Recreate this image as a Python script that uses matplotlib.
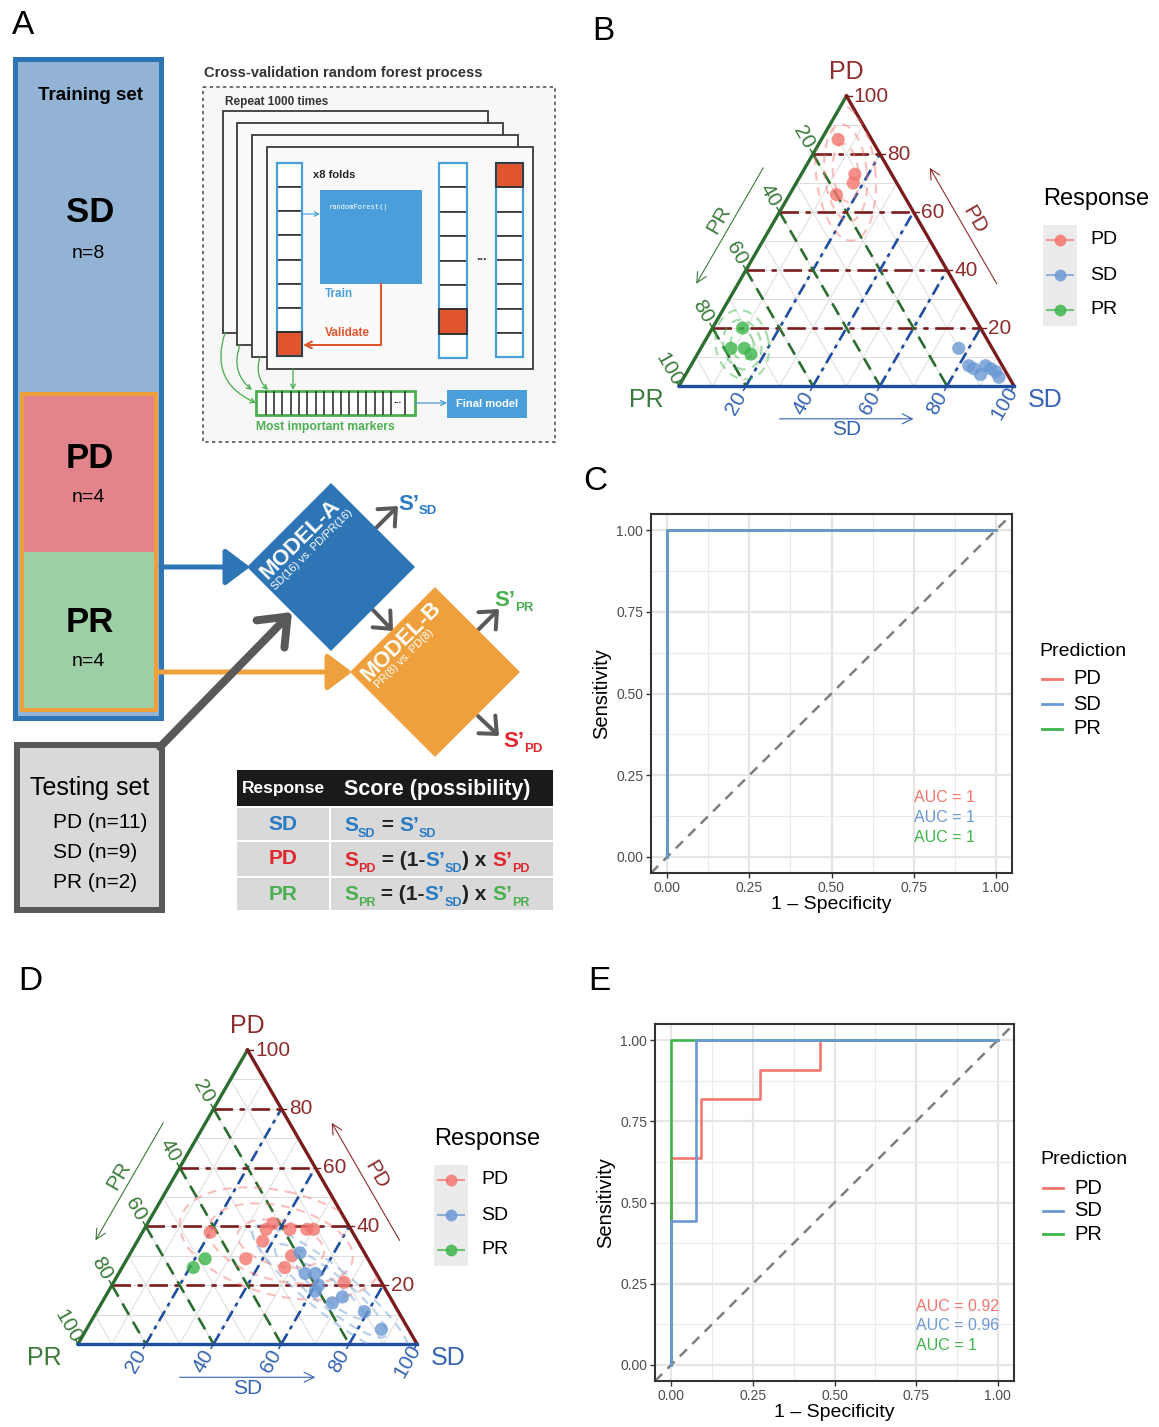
import numpy as np
import matplotlib
matplotlib.use('Agg')
import matplotlib.pyplot as plt
from matplotlib.patches import Rectangle, Polygon, Ellipse, FancyArrowPatch

plt.rcParams['font.family'] = ['Liberation Sans', 'DejaVu Sans']

W, H = 1159, 1427
PX = 72 / 100  # points per pixel at dpi 100

# ---------------- data ----------------
groups = ['PD', 'SD', 'PR']
group_cols = {'PD': '#F4756E', 'SD': '#6A98D4', 'PR': '#3DB54A'}

# panel B: training set compositions (% PD, % SD, % PR)
train_PD = dict(PD=[85, 73, 70, 66], SD=[5, 16, 17, 14], PR=[10, 11, 13, 20])
train_SD = dict(PD=[13, 6, 7, 6, 4, 5, 3, 7], SD=[77, 85, 88, 90, 88, 92, 94, 83],
                PR=[10, 9, 5, 4, 8, 3, 3, 10])
train_PR = dict(PD=[20, 13, 13, 11], SD=[9, 9, 13, 16], PR=[71, 78, 74, 73])

# panel D: testing set compositions
test_PD = dict(PD=[38, 39, 41, 39, 39, 39, 35, 29, 30, 26, 21],
               SD=[20, 36, 37, 43, 48, 50, 37, 35, 48, 48, 68],
               PR=[42, 25, 22, 18, 13, 11, 28, 36, 22, 26, 11])
test_SD = dict(PD=[31, 24, 24, 20, 18, 14, 16, 11, 5],
               SD=[50, 55, 58, 61, 61, 68, 70, 79, 87],
               PR=[19, 21, 18, 19, 21, 18, 14, 10, 8])
test_PR = dict(PD=[26, 29], SD=[21, 23], PR=[53, 48])

# ROC curves: (1 - specificity, sensitivity)
roc_train = {'PD': ([0, 0, 1], [0, 1, 1]),
             'SD': ([0, 0, 1], [0, 1, 1]),
             'PR': ([0, 0, 1], [0, 1, 1])}
auc_train = ['1', '1', '1']
roc_test = {'PD': ([0, 0, 0.091, 0.091, 0.273, 0.273, 0.455, 0.455, 1],
                   [0, 0.636, 0.636, 0.818, 0.818, 0.909, 0.909, 1, 1]),
            'SD': ([0, 0, 0.077, 0.077, 1], [0, 0.444, 0.444, 1, 1]),
            'PR': ([0, 0, 1], [0, 1, 1])}
auc_test = ['0.92', '0.96', '1']

tern_ticks = [20, 40, 60, 80, 100]

# ternary axis colours
PD_AX, PD_TXT = '#7B1C1C', '#8E2C2C'
PR_AX, PR_TXT = '#2C6E2F', '#3B7A3B'
SD_AX, SD_TXT = '#1F4EA1', '#3563B3'

fig = plt.figure(figsize=(W / 100, H / 100), dpi=100)
ax0 = fig.add_axes([0, 0, 1, 1])
ax0.set_xlim(0, W)
ax0.set_ylim(H, 0)
ax0.axis('off')


def fig_rect(x0, y0, x1, y1):
    return [x0 / W, 1 - y1 / H, (x1 - x0) / W, (y1 - y0) / H]


def box(x0, y0, x1, y1, **kw):
    ax0.add_patch(Rectangle((x0, y0), x1 - x0, y1 - y0, **kw))


def arrow(p0, p1, color, lw, style='->', ms=20, **kw):
    ax0.add_patch(FancyArrowPatch(p0, p1, arrowstyle=style, color=color, lw=lw * PX,
                                  mutation_scale=ms, shrinkA=0, shrinkB=0, **kw))


def rich_text(x, y, parts, weight='bold'):
    prev = None
    for txt, col, size, dy in parts:
        if prev is None:
            prev = ax0.text(x, y + dy, txt, color=col, fontsize=size, fontweight=weight,
                            ha='left', va='baseline')
        else:
            prev = ax0.annotate(txt, xy=(1, y + dy), xycoords=(prev, 'data'), color=col,
                                fontsize=size, fontweight=weight, ha='left', va='baseline')
    return prev


# ---------------- panel letters ----------------
for lab, (x, y) in zip('ABCDE', [(23, 25), (603, 32), (595, 482), (30, 981), (599, 982)]):
    ax0.text(x, y, lab, fontsize=24, ha='center', va='center')

# ---------------- panel A ----------------
BLUE_A, ORANGE_A, GRAY_A = '#2E75B6', '#EFA03C', '#595959'
T_RED, T_BLUE, T_GREEN = '#E0282E', '#2A7BC4', '#4CAF50'

box(15, 59, 161, 718, fc='#93B3D5', ec=BLUE_A, lw=5 * PX)
box(22, 394, 156, 552, fc='#E3838A', ec='none')
box(22, 552, 156, 710, fc='#9CCFA4', ec='none')
box(22, 394, 156, 710, fc='none', ec=ORANGE_A, lw=4 * PX)
ax0.text(90, 96, 'Training set', fontsize=13.5, fontweight='bold', ha='center', va='center')
for lab, n, yy in [('SD', 'n=8', 213), ('PD', 'n=4', 458), ('PR', 'n=4', 622)]:
    ax0.text(90, yy, lab, fontsize=25, fontweight='bold', ha='center', va='center')
    ax0.text(88, yy + 40, n, fontsize=14, ha='center', va='center')

box(17, 745, 162, 910, fc='#D9D9D9', ec=GRAY_A, lw=6 * PX)
ax0.text(90, 788, 'Testing set', fontsize=18, ha='center', va='center')
for i, t in enumerate(['PD (n=11)', 'SD (n=9)', 'PR (n=2)']):
    ax0.text(53, 822 + 30 * i, t, fontsize=15, ha='left', va='center')

# arrows into the models
arrow((161, 567), (250, 567), BLUE_A, 5, '-|>,head_length=0.6,head_width=0.45', 25)
arrow((156, 672), (352, 672), ORANGE_A, 5, '-|>,head_length=0.6,head_width=0.45', 25)
arrow((160, 747), (292, 612), GRAY_A, 8, '->,head_length=0.5,head_width=0.4', 35)

# model diamonds
for cx, cy, h, col in [(331, 567, 84, BLUE_A), (435, 672, 85, ORANGE_A)]:
    ax0.add_patch(Polygon([(cx - h, cy), (cx, cy - h), (cx + h, cy), (cx, cy + h)],
                          closed=True, fc=col, ec='none', zorder=3))
ax0.text(300, 539, 'MODEL-A', color='white', fontsize=16, fontweight='bold', rotation=45,
         ha='center', va='center', zorder=4)
ax0.text(312, 550, 'SD(16) vs. PD/PR(16)', color='white', fontsize=8, rotation=45,
         ha='center', va='center', zorder=4)
ax0.text(401, 641, 'MODEL-B', color='white', fontsize=16, fontweight='bold', rotation=45,
         ha='center', va='center', zorder=4)
ax0.text(404, 659, 'PR(8) vs. PD(8)', color='white', fontsize=8, rotation=45,
         ha='center', va='center', zorder=4)

# output arrows
for p0, p1 in [((376, 528), (398, 506)), ((373, 610), (393, 631)),
               ((478, 630), (499, 609)), ((478, 716), (499, 736))]:
    arrow(p0, p1, GRAY_A, 4, '->,head_length=0.45,head_width=0.4', 22)
rich_text(398, 510, [('S’', T_BLUE, 16, 0), ('SD', T_BLUE, 9.5, 4)])
rich_text(494, 606, [('S’', T_GREEN, 16, 0), ('PR', T_GREEN, 9.5, 5)])
rich_text(503, 747, [('S’', T_RED, 16, 0), ('PD', T_RED, 9.5, 5)])

# score table
box(237, 770, 553, 806, fc='#1A1A1A', ec='none')
for y0, y1 in [(808, 840), (842, 876), (878, 910)]:
    box(237, y0, 329, y1, fc='#D9D9D9', ec='none')
    box(331, y0, 553, y1, fc='#D9D9D9', ec='none')
ax0.text(283, 789, 'Response', color='white', fontsize=12.5, fontweight='bold',
         ha='center', va='center')
ax0.text(344, 789, 'Score (possibility)', color='white', fontsize=15.5, fontweight='bold',
         ha='left', va='center')
for lab, col, yy in [('SD', T_BLUE, 824), ('PD', T_RED, 859), ('PR', T_GREEN, 894)]:
    ax0.text(283, yy, lab, color=col, fontsize=15, fontweight='bold', ha='center', va='center')
K = '#222222'
rich_text(344, 831, [('S', T_BLUE, 15, 0), ('SD', T_BLUE, 9, 6), (' = ', K, 15, 0),
                     ('S’', T_BLUE, 15, 0), ('SD', T_BLUE, 9, 6)])
rich_text(344, 866, [('S', T_RED, 15, 0), ('PD', T_RED, 9, 6), (' = (1-', K, 15, 0),
                     ('S’', T_BLUE, 15, 0), ('SD', T_BLUE, 9, 6), (') x ', K, 15, 0),
                     ('S’', T_RED, 15, 0), ('PD', T_RED, 9, 6)])
rich_text(344, 900, [('S', T_GREEN, 15, 0), ('PR', T_GREEN, 9, 6), (' = (1-', K, 15, 0),
                     ('S’', T_BLUE, 15, 0), ('SD', T_BLUE, 9, 6), (') x ', K, 15, 0),
                     ('S’', T_GREEN, 15, 0), ('PR', T_GREEN, 9, 6)])

# cross-validation schematic
CV_BLUE, CV_ORANGE, CV_GREEN = '#4A9FDB', '#E0552D', '#4CAF50'
ax0.text(204, 73, 'Cross-validation random forest process', fontsize=10.5, fontweight='bold',
         color='#333333', ha='left', va='center')
box(203, 87, 555, 442, fc='#F7F7F7', ec='#555555', lw=1.2, ls=(0, (2, 2)))
ax0.text(225, 102, 'Repeat 1000 times', fontsize=8.5, fontweight='bold', color='#333333',
         ha='left', va='center')
for x0, y0, x1, y1 in [(223, 111, 488, 333), (237, 123, 503, 345),
                       (252, 135, 518, 357), (267, 147, 533, 369)]:
    box(x0, y0, x1, y1, fc='#FAFAFA', ec='#3A3A3A', lw=1.3)


def fold_column(x0, x1, y0, y1, hot):
    step = (y1 - y0) / 8
    for i in range(8):
        fc = CV_ORANGE if i == hot else 'white'
        box(x0, y0 + i * step, x1, y0 + (i + 1) * step, fc=fc, ec='#333333', lw=1.2)
    box(x0, y0, x1, y1, fc='none', ec=CV_BLUE, lw=1.6)
    box(x0, y0 + hot * step, x1, y0 + (hot + 1) * step, fc='none', ec='#333333', lw=1.3)


fold_column(277, 302, 163, 356, 7)
fold_column(439, 467, 163, 358, 6)
fold_column(496, 523, 163, 357, 0)
ax0.text(313, 175, 'x8 folds', fontsize=8, fontweight='bold', color='#222222', ha='left', va='center')
box(320, 190, 422, 284, fc=CV_BLUE, ec='none')
ax0.text(329, 207, 'randomForest()', fontsize=5, color='white', family='DejaVu Sans Mono',
         ha='left', va='center')
ax0.text(325, 294, 'Train', fontsize=8.5, fontweight='bold', color=CV_BLUE, ha='left', va='center')
ax0.text(325, 333, 'Validate', fontsize=8.5, fontweight='bold', color=CV_ORANGE, ha='left', va='center')
ax0.text(481, 257, '...', fontsize=9, fontweight='bold', color='#333333', ha='center', va='center')
arrow((302, 214), (320, 214), CV_BLUE, 1.2, '->', 8)
ax0.plot([381, 381], [284, 345], color=CV_ORANGE, lw=1.5)
arrow((381, 345), (303, 345), CV_ORANGE, 2, '->', 12)

# most important markers bar
box(256, 391, 415, 415, fc='white', ec=CV_GREEN, lw=2)
for xx in np.arange(265.5, 392, 8.4):
    ax0.plot([xx, xx], [392, 414], color='#222222', lw=1.1)
ax0.plot([405, 405], [392, 414], color='#222222', lw=1.1)
ax0.text(397, 400, '...', fontsize=7, fontweight='bold', color='#222222', ha='center', va='center')
ax0.text(256, 427, 'Most important markers', fontsize=8.7, fontweight='bold', color=CV_GREEN,
         ha='left', va='center')
for p0, p1, rad in [((225, 333), (256, 403), 0.45), ((240, 345), (252, 390), 0.35),
                    ((260, 357), (268, 390), 0.3), ((293, 369), (293, 390), 0.0)]:
    arrow(p0, p1, CV_GREEN, 1.3, '->', 8, connectionstyle=f'arc3,rad={rad}')
arrow((415, 403), (447, 403), CV_BLUE, 1.3, '->', 9)
box(447, 390, 527, 418, fc=CV_BLUE, ec='none')
ax0.text(487, 404, 'Final model', fontsize=8, fontweight='bold', color='white', ha='center', va='center')

# ---------------- ternary panels ----------------
S3 = np.sqrt(3) / 2


def tern(pd, sd, pr):
    pd = np.asarray(pd, float)
    sd = np.asarray(sd, float)
    pr = np.asarray(pr, float)
    tot = pd + sd + pr
    return sd / tot + pd / tot / 2, pd / tot * S3


def group_contours(ax, x, y, color, clip):
    pts = np.column_stack([x, y])
    mu = pts.mean(0)
    cov = np.cov(pts.T) + np.eye(2) * 2e-4
    vals, vecs = np.linalg.eigh(cov)
    ang = np.degrees(np.arctan2(vecs[1, 1], vecs[0, 1]))
    for k in (1.2, 2.0, 2.8):
        e = Ellipse(mu, 2 * k * np.sqrt(vals[1]), 2 * k * np.sqrt(vals[0]), angle=ang,
                    fill=False, ls=(0, (4, 3)), lw=1.6, color=color, alpha=0.45, zorder=5)
        ax.add_patch(e)
        e.set_clip_path(clip)


def draw_ternary(ax, sets, contour_groups):
    ax.set_xlim(0, 1)
    ax.set_ylim(0, S3)
    ax.axis('off')
    clip = Polygon([(0, 0), (1, 0), (0.5, S3)], closed=True, fc='none', ec='none')
    ax.add_patch(clip)
    for v in np.arange(1, 10) / 10:
        for a, b in [((v, 0, 1 - v), (v, 1 - v, 0)), ((0, v, 1 - v), (1 - v, v, 0)),
                     ((1 - v, 0, v), (0, 1 - v, v))]:
            x, y = tern(*zip(a, b))
            ax.plot(x, y, color='#DCDCDC', lw=0.7, zorder=1)
    for v in [0.2, 0.4, 0.6, 0.8]:
        x, y = tern((v, v), (0, 1 - v), (1 - v, 0))
        ax.plot(x, y, color=PD_AX, lw=1.9, ls=(0, (7, 2.5, 2, 2.5)), zorder=2)
        x, y = tern((0, 1 - v), (v, v), (1 - v, 0))
        ax.plot(x, y, color=SD_AX, lw=1.9, ls=(0, (4.5, 2, 1.5, 2)), zorder=2)
        x, y = tern((1 - v, 0), (0, 1 - v), (v, v))
        ax.plot(x, y, color=PR_AX, lw=1.9, ls=(0, (5, 3)), zorder=2)
    for a, b, col in [((0, 1), (0, 0), PR_AX), ((0, 1), (1, 0), PD_AX), ((0, 0), (0, 1), SD_AX)]:
        pr = (1 - a[0] - b[0], 1 - a[1] - b[1])
        x, y = tern(a, b, pr)
        ax.plot(x, y, color=col, lw=2.4, zorder=4, clip_on=False, solid_capstyle='projecting')
    # ticks and labels
    for t in tern_ticks:
        v = t / 100
        # PD on right edge
        px, py = tern(v, 1 - v, 0)
        ax.plot([px, px + 0.015], [py, py], color=PD_AX, lw=1, clip_on=False)
        ax.text(px + 0.022, py, str(t), color=PD_TXT, fontsize=15, ha='left', va='center')
        # PR on left edge
        px, py = tern(1 - v, 0, v)
        d = np.array([-0.5, S3])
        ax.plot([px, px + 0.015 * d[0]], [py, py + 0.015 * d[1]], color=PR_AX, lw=1, clip_on=False)
        ax.text(px + 0.058 * d[0], py + 0.058 * d[1], str(t), color=PR_TXT, fontsize=15,
                rotation=-60, ha='center', va='center', rotation_mode='anchor')
        # SD on bottom edge
        px, py = tern(0, v, 1 - v)
        d = np.array([-0.5, -S3])
        ax.plot([px, px + 0.015 * d[0]], [py, py + 0.015 * d[1]], color=SD_AX, lw=1, clip_on=False)
        ax.text(px + 0.058 * d[0], py + 0.058 * d[1], str(t), color=SD_TXT, fontsize=15,
                rotation=60, ha='center', va='center', rotation_mode='anchor')
    # corner titles
    ax.text(0.5, S3 + 0.072, 'PD', color=PD_TXT, fontsize=18, ha='center', va='center')
    ax.text(-0.098, -0.042, 'PR', color=PR_TXT, fontsize=18, ha='center', va='center')
    ax.text(1.092, -0.042, 'SD', color=SD_TXT, fontsize=18, ha='center', va='center')
    # direction arrows
    ap = dict(arrowstyle='->', lw=0.8, mutation_scale=18, shrinkA=0, shrinkB=0)
    ax.annotate('', xy=(0.70, -0.098), xytext=(0.30, -0.098), annotation_clip=False,
                arrowprops=dict(color=SD_TXT, **ap))
    ax.text(0.5, -0.13, 'SD', color=SD_TXT, fontsize=15, ha='center', va='center')
    e = np.array([0.5, S3]); n = np.array([-S3, 0.5])
    p0 = 0.69 * e + 0.108 * n; p1 = 0.29 * e + 0.108 * n; pt = 0.49 * e + 0.145 * n
    ax.annotate('', xy=p1, xytext=p0, annotation_clip=False, arrowprops=dict(color=PR_TXT, **ap))
    ax.text(pt[0], pt[1], 'PR', color=PR_TXT, fontsize=15, rotation=60, ha='center', va='center')
    c = np.array([1.0, 0.0]); e = np.array([-0.5, S3]); n = np.array([S3, 0.5])
    p0 = c + 0.29 * e + 0.108 * n; p1 = c + 0.69 * e + 0.108 * n; pt = c + 0.49 * e + 0.145 * n
    ax.annotate('', xy=p1, xytext=p0, annotation_clip=False, arrowprops=dict(color=PD_TXT, **ap))
    ax.text(pt[0], pt[1], 'PD', color=PD_TXT, fontsize=15, rotation=-60, ha='center', va='center')
    # points
    for g, d in sets.items():
        x, y = tern(d['PD'], d['SD'], d['PR'])
        if g in contour_groups:
            group_contours(ax, x, y, group_cols[g], clip)
        ax.scatter(x, y, s=90, color=group_cols[g], alpha=0.8, edgecolors='none', zorder=6,
                   clip_on=False)


axB = fig.add_axes(fig_rect(679, 96, 1014, 386))
draw_ternary(axB, {'PD': train_PD, 'SD': train_SD, 'PR': train_PR}, ['PD', 'PR'])
axD = fig.add_axes(fig_rect(78, 1050, 417, 1344))
draw_ternary(axD, {'PD': test_PD, 'SD': test_SD, 'PR': test_PR}, ['PD', 'SD'])


def response_legend(x, y):
    ax0.text(x, y, 'Response', fontsize=17, ha='left', va='center')
    box(x, y + 26, x + 34, y + 127, fc='#EBEBEB', ec='none')
    for i, g in enumerate(groups):
        yy = y + 41 + 35 * i
        ax0.plot([x + 3, x + 31], [yy, yy], color=group_cols[g], lw=1.5, ls=(0, (6, 2.5)), alpha=0.7)
        ax0.plot(x + 17, yy, 'o', ms=8.5, color=group_cols[g], alpha=0.85, mec='none')
        ax0.text(x + 47, yy, g, fontsize=14, ha='left', va='center')


response_legend(1043, 199)
response_legend(434, 1139)

# ---------------- ROC panels ----------------


def draw_roc(ax, curves, aucs):
    ax.set_xlim(-0.05, 1.05)
    ax.set_ylim(-0.05, 1.05)
    ticks = [0, 0.25, 0.5, 0.75, 1.0]
    labs = ['0.00', '0.25', '0.50', '0.75', '1.00']
    ax.set_xticks(ticks, labs)
    ax.set_yticks(ticks, labs)
    ax.set_xticks([0.125, 0.375, 0.625, 0.875], minor=True)
    ax.set_yticks([0.125, 0.375, 0.625, 0.875], minor=True)
    ax.grid(which='major', color='#E5E5E5', lw=1.6)
    ax.grid(which='minor', color='#EBEBEB', lw=0.8)
    ax.set_axisbelow(True)
    ax.tick_params(which='minor', length=0)
    ax.tick_params(which='major', length=3.5, width=1, color='#333333', labelcolor='#4D4D4D',
                   labelsize=10, pad=2)
    for s in ax.spines.values():
        s.set_color('#333333')
        s.set_linewidth(1.5)
    ax.plot([-0.05, 1.05], [-0.05, 1.05], color='#7F7F7F', lw=1.8, ls=(0, (4, 3)), zorder=2)
    for g in ['PD', 'PR', 'SD']:
        fpr, tpr = curves[g]
        ax.plot(fpr, tpr, color=group_cols[g], lw=2.6 * PX * 1.0, zorder=3)
    for i, g in enumerate(groups):
        ax.text(0.75, 0.18 - 0.06 * i, f'AUC = {aucs[i]}', color=group_cols[g], fontsize=11.5,
                ha='left', va='center')
    ax.set_xlabel('1 – Specificity', fontsize=14, labelpad=1)
    ax.set_ylabel('Sensitivity', fontsize=14.5, labelpad=4)


axC = fig.add_axes(fig_rect(651, 514, 1012, 873))
draw_roc(axC, roc_train, auc_train)
axE = fig.add_axes(fig_rect(655, 1024, 1014, 1381))
draw_roc(axE, roc_test, auc_test)


def prediction_legend(x, y, step):
    ax0.text(x, y, 'Prediction', fontsize=14, ha='left', va='center')
    for i, g in enumerate(groups):
        yy = y + 28 + step * i
        ax0.plot([x + 3, x + 23], [yy, yy], color=group_cols[g], lw=2)
        ax0.text(x + 34, yy, g, fontsize=14.5, ha='left', va='center')


prediction_legend(1039, 651, 25)
prediction_legend(1040, 1160, 23)

fig.savefig('out.png', dpi=100)
